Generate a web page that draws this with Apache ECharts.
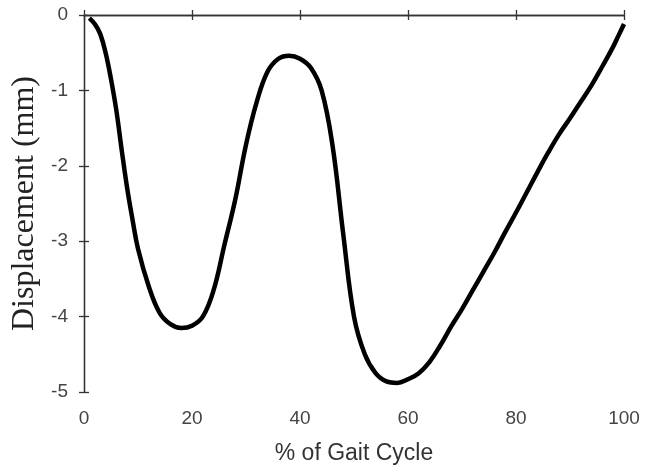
<!DOCTYPE html>
<html>
<head>
<meta charset="utf-8">
<script src="https://cdn.jsdelivr.net/npm/echarts@6/dist/echarts.min.js"></script>
<style>
html,body{margin:0;padding:0;background:#fff;}
#chart{width:667px;height:470px;}
</style>
</head>
<body>
<div id="chart"></div>
<script>
var gaitPercent = [1, 2, 3, 4, 5, 6, 7, 8, 9, 10, 12, 14, 16, 18, 20, 22, 24, 26, 28, 30, 32, 34, 36, 38, 40, 42, 44, 46, 48, 50, 52, 54, 56, 58, 60, 62, 64, 66, 68, 70, 72, 74, 76, 78, 80, 82, 84, 86, 88, 90, 92, 94, 96, 98, 99, 100];
var displacement = [-0.04, -0.12, -0.25, -0.5, -0.85, -1.27, -1.8, -2.3, -2.72, -3.1, -3.6, -3.95, -4.1, -4.15, -4.12, -4.0, -3.65, -3.05, -2.45, -1.72, -1.15, -0.75, -0.58, -0.54, -0.58, -0.7, -1.0, -1.72, -2.9, -4.0, -4.5, -4.75, -4.86, -4.88, -4.83, -4.75, -4.6, -4.38, -4.13, -3.9, -3.65, -3.4, -3.15, -2.88, -2.62, -2.35, -2.08, -1.82, -1.58, -1.37, -1.15, -0.93, -0.68, -0.42, -0.27, -0.12];
var xTicks = [0, 20, 40, 60, 80, 100];
var yTicks = [-5, -4, -3, -2, -1, 0];

var seriesData = gaitPercent.map(function (x, i) { return [x, displacement[i]]; });

var axisLineStyle = { color: '#333', width: 1.3 };
var tickStyle = { show: true, inside: false, length: -5, lineStyle: axisLineStyle };
var chart = echarts.init(document.getElementById('chart'));
chart.setOption({
  animation: false,
  backgroundColor: '#fff',
  grid: { left: 84, right: 43, top: 15, bottom: 78, containLabel: false },
  xAxis: [{
    type: 'value', min: xTicks[0], max: xTicks[xTicks.length - 1], interval: 20,
    position: 'bottom',
    name: '% of Gait Cycle', nameLocation: 'middle', nameGap: 50,
    nameTextStyle: { fontFamily: 'Liberation Sans, Arial, sans-serif', fontSize: 23, color: '#333' },
    axisLine: { show: true, lineStyle: axisLineStyle },
    axisTick: tickStyle,
    axisLabel: { margin: 17, fontFamily: 'Liberation Sans, Arial, sans-serif', fontSize: 19, color: '#444' },
    splitLine: { show: false }
  }, {
    type: 'value', min: xTicks[0], max: xTicks[xTicks.length - 1], interval: 20,
    position: 'top',
    axisLine: { show: true, lineStyle: axisLineStyle },
    axisTick: tickStyle,
    axisLabel: { show: false },
    splitLine: { show: false }
  }],
  yAxis: [{
    type: 'value', min: yTicks[0], max: yTicks[yTicks.length - 1], interval: 1,
    position: 'left',
    name: 'Displacement (mm)', nameLocation: 'middle', nameGap: 41,
    nameTextStyle: { fontFamily: 'Liberation Serif, Times New Roman, serif', fontSize: 32, color: '#222' },
    axisLine: { show: true, lineStyle: axisLineStyle },
    axisTick: tickStyle,
    axisLabel: { margin: 16, fontFamily: 'Liberation Sans, Arial, sans-serif', fontSize: 19, color: '#444' },
    splitLine: { show: false }
  }, {
    type: 'value', min: yTicks[0], max: yTicks[yTicks.length - 1], interval: 1,
    position: 'right',
    axisLine: { show: true, lineStyle: axisLineStyle },
    axisTick: tickStyle,
    axisLabel: { show: false },
    splitLine: { show: false }
  }],
  series: [{
    type: 'line',
    data: seriesData,
    smooth: 0.4,
    showSymbol: false,
    lineStyle: { color: '#000', width: 4.5 },
    clip: true
  }]
});
</script>
</body>
</html>
